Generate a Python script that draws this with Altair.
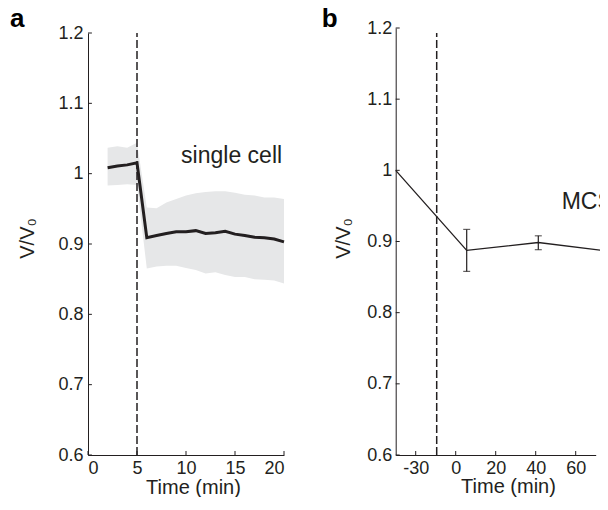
import altair as alt
import pandas as pd

# ---------------- Panel a data (single cell) ----------------
a_t = [2, 3, 4, 5, 6, 7, 8, 9, 10, 11, 12, 13, 14, 15, 16, 17, 18, 19, 20]
a_mean = [1.0085, 1.011, 1.0125, 1.0155, 0.909, 0.912, 0.915, 0.9175, 0.9175, 0.919,
          0.915, 0.916, 0.918, 0.914, 0.912, 0.9095, 0.909, 0.907, 0.903]
a_upper = [1.037, 1.039, 1.037, 1.044, 0.952, 0.951, 0.959, 0.964, 0.969, 0.972,
           0.974, 0.975, 0.975, 0.973, 0.970, 0.969, 0.966, 0.966, 0.964]
a_lower = [0.983, 0.984, 0.985, 0.984, 0.865, 0.868, 0.869, 0.869, 0.866, 0.863,
           0.858, 0.860, 0.856, 0.853, 0.853, 0.850, 0.849, 0.848, 0.844]
a_dash = [5]
a_xticks = [0, 5, 10, 15, 20]

# ---------------- Panel b data (MCS) ----------------
b_x = [-30, 5.5, 41.3, 75.6]
b_y = [1.0, 0.8875, 0.8986, 0.8867]
b_err_x = [5.5, 41.3, 75.6]
b_err_lo = [0.858, 0.8885, 0.8686]
b_err_hi = [0.917, 0.908, 0.9056]
b_dash = [-9.5]
b_xticks = [-20, 0, 20, 40, 60]
b_xlabels = ["-30", "0", "20", "40", "60"]

y_ticks = [0.6, 0.7, 0.8, 0.9, 1.0, 1.1, 1.2]

INK = "#231f20"
BAND = "#e6e7e8"
FONT = "Liberation Sans"

W, H = 512, 427  # shared view; each panel gets its own pixel range

a_df = pd.DataFrame({"t": a_t, "m": a_mean, "hi": a_upper, "lo": a_lower})
b_df = pd.DataFrame({"x": b_x, "y": b_y})
be_df = pd.DataFrame({"x": b_err_x, "lo": b_err_lo, "hi": b_err_hi})
yt_df = pd.DataFrame({"v": y_ticks})

label_map = "{" + ",".join(f"'{v}':'{l}'" for v, l in zip(b_xticks, b_xlabels)) + "}"

common = dict(grid=False, tickSize=0, labelFontSize=18, labelColor=INK,
              domainColor=INK, domainWidth=1, titleFontSize=20,
              titleFontWeight="normal", titleColor=INK, titleBaseline="alphabetic")

# ---------------- Panel a ----------------
xa = alt.Scale(domain=[0, 20], range=[0, 196], nice=False, zero=False)
ya = alt.Scale(domain=[0.6, 1.2], range=[427, 5], nice=False, zero=False)

a_axis_x = alt.Axis(values=a_xticks, orient="bottom", labelPadding=4,
                    title="Time (min)", titleX=105, titleY=38, **common)
a_axis_y = alt.Axis(values=y_ticks, orient="left", format="~g", labelPadding=5,
                    title="V/V₀", titleAngle=270, titleX=-55, titleY=210, **common)

a_band = alt.Chart(a_df).mark_area(color=BAND, opacity=1).encode(
    x=alt.X("t:Q", scale=xa, axis=a_axis_x),
    y=alt.Y("lo:Q", scale=ya, axis=a_axis_y),
    y2="hi:Q",
)
a_line = alt.Chart(a_df).mark_line(color=INK, strokeWidth=3).encode(
    x=alt.X("t:Q"), y=alt.Y("m:Q")
)
a_dash_df = pd.DataFrame({"t": a_dash, "y0": [0.6], "y1": [1.2]})
a_dashline = alt.Chart(a_dash_df).mark_rule(color=INK, strokeWidth=1.5, strokeDash=[8, 3]).encode(
    x=alt.X("t:Q"), y=alt.Y("y0:Q"), y2="y1:Q"
)
a_yt = alt.Chart(yt_df).mark_rule(color=INK, strokeWidth=1).encode(
    y=alt.Y("v:Q"), x=alt.X(datum=0), x2=alt.X2(datum=0.4)
)
a_xt = alt.Chart(pd.DataFrame({"t": a_xticks})).mark_rule(color=INK, strokeWidth=1).encode(
    x=alt.X("t:Q"), y=alt.Y(datum=0.6), y2=alt.Y2(datum=0.6057)
)
a_text = alt.Chart(pd.DataFrame({"t": [9.5], "y": [1.0155], "s": ["single cell"]})).mark_text(
    align="left", baseline="alphabetic", fontSize=23, color=INK
).encode(x=alt.X("t:Q"), y=alt.Y("y:Q"), text="s:N")
a_lab = alt.Chart(pd.DataFrame({"s": ["a"]})).mark_text(
    align="left", baseline="alphabetic", fontSize=26, fontWeight="bold", color="#000000"
).encode(x=alt.value(-78), y=alt.value(-1), text="s:N")

layer_a = alt.layer(a_band, a_line, a_dashline, a_yt, a_xt, a_text, a_lab)

# ---------------- Panel b ----------------
xb = alt.Scale(domain=[-30, 70], range=[307.7, 507.7], nice=False, zero=False)
yb = alt.Scale(domain=[0.6, 1.2], range=[427, 0], nice=False, zero=False)

b_axis_x = alt.Axis(values=b_xticks, orient="bottom", labelPadding=4,
                    labelExpr=f"{label_map}[datum.value] || datum.label",
                    title="Time (min)", titleX=420, titleY=37, **common)
b_axis_y = alt.Axis(values=y_ticks, orient="left", format="~g", labelPadding=4,
                    offset=-307.7, title="V/V₀", titleAngle=270, titleX=-46, titleY=210,
                    **common)

b_line = alt.Chart(b_df).mark_line(color=INK, strokeWidth=1.3).encode(
    x=alt.X("x:Q", scale=xb, axis=b_axis_x),
    y=alt.Y("y:Q", scale=yb, axis=b_axis_y),
)
b_err = alt.Chart(be_df).mark_rule(color=INK, strokeWidth=1.2).encode(
    x=alt.X("x:Q"), y=alt.Y("lo:Q"), y2="hi:Q"
)
b_cap_lo = alt.Chart(be_df).mark_tick(color=INK, orient="horizontal", size=7, thickness=1.2).encode(
    x=alt.X("x:Q"), y=alt.Y("lo:Q")
)
b_cap_hi = alt.Chart(be_df).mark_tick(color=INK, orient="horizontal", size=7, thickness=1.2).encode(
    x=alt.X("x:Q"), y=alt.Y("hi:Q")
)
b_dash_df = pd.DataFrame({"x": b_dash, "y0": [0.6], "y1": [1.193]})
b_dashline = alt.Chart(b_dash_df).mark_rule(color=INK, strokeWidth=1.5, strokeDash=[8, 3]).encode(
    x=alt.X("x:Q"), y=alt.Y("y0:Q"), y2="y1:Q"
)
b_yt = alt.Chart(yt_df).mark_rule(color=INK, strokeWidth=1).encode(
    y=alt.Y("v:Q"), x=alt.X(datum=-30), x2=alt.X2(datum=-28)
)
b_xt = alt.Chart(pd.DataFrame({"x": b_xticks})).mark_rule(color=INK, strokeWidth=1).encode(
    x=alt.X("x:Q"), y=alt.Y(datum=0.6), y2=alt.Y2(datum=0.6056)
)
b_text = alt.Chart(pd.DataFrame({"x": [53], "y": [0.945], "s": ["MCS"]})).mark_text(
    align="left", baseline="alphabetic", fontSize=23, color=INK
).encode(x=alt.X("x:Q"), y=alt.Y("y:Q"), text="s:N")
b_lab = alt.Chart(pd.DataFrame({"s": ["b"]})).mark_text(
    align="left", baseline="alphabetic", fontSize=26, fontWeight="bold", color="#000000"
).encode(x=alt.value(233.7), y=alt.value(-1), text="s:N")

layer_b = alt.layer(b_line, b_dashline, b_err, b_cap_lo, b_cap_hi, b_yt, b_xt, b_text, b_lab)

chart = alt.layer(layer_a, layer_b).resolve_scale(
    x="independent", y="independent"
).resolve_axis(
    x="independent", y="independent"
).properties(
    width=W, height=H,
    autosize=alt.AutoSizeParams(type="none"),
    padding={"left": 80, "top": 20, "right": 0, "bottom": 42},
).configure(font=FONT).configure_view(stroke=None)

chart.save("out.html", embed_options={"renderer": "svg", "actions": False})
